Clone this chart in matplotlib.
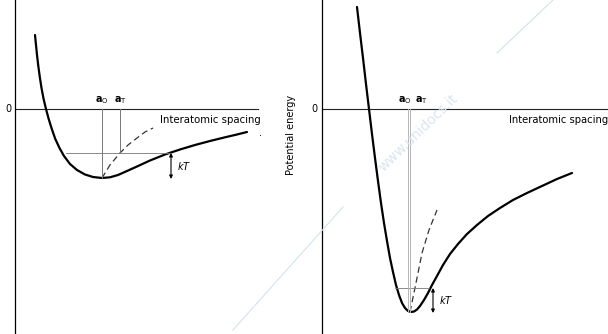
import numpy as np
import matplotlib.pyplot as plt
from matplotlib.lines import Line2D

# values (arbitrary units, 0 = zero energy line)
# left panel: shallow, asymmetric well
left_x = [20, 21, 22, 23.3, 24.8, 26.5, 28.6, 31, 33.7, 36.8, 40.3, 44.5, 49,
          55, 62, 70, 78, 87, 95, 103, 112, 122, 135, 150, 165, 180, 195,
          210, 222, 232]
left_y = [74, 64, 54, 43, 32, 21, 10, 0, -10, -20, -30, -39, -47, -55, -61,
          -65.5, -68, -69, -68.3, -66, -62, -57.5, -51.5, -45.5, -40.5, -36,
          -32, -28.3, -25.5, -23]
left_mid_x = [87, 95, 105, 113, 122, 130, 138]
left_mid_y = [-69, -56, -44, -36, -29, -23, -19]
left_a0, left_aT = 87, 105
left_min, left_kT = -69, -44
left_kT_span = (51, 155)

# right panel: deep, nearly symmetric well
right_x = [35, 38, 41, 44, 47, 50, 53, 56, 59, 62, 65, 68, 71, 74, 77, 80, 83,
           86, 89, 92, 95, 98, 102, 106, 110, 115, 121, 128, 136, 145, 155,
           166, 178, 191, 205, 220, 235, 250]
right_y = [102, 76, 51, 25, 0, -25, -49, -72, -94, -114, -132, -149, -163,
           -176, -186, -194, -199, -202, -203, -202.5, -200.5, -197, -191,
           -184, -176, -167, -156, -145, -135, -125, -116, -107, -99, -91,
           -84, -77, -70, -64]
right_mid_x = [88, 94, 100, 107, 115]
right_mid_y = [-203, -174, -144, -121, -101]
right_a0, right_aT = 86, 88
right_min, right_kT = -203, -179
right_kT_span = (73, 107)

W, H = 608, 334
fig = plt.figure(figsize=(W / 100, H / 100), dpi=100)
plt.rcParams['font.family'] = ['DejaVu Sans']

# watermark (faint)
wm = '#d3e2f0'
fig.add_artist(Line2D([233 / W, 343 / W], [1 - 330 / H, 1 - 207 / H],
                      color=wm, lw=0.8, transform=fig.transFigure))
fig.add_artist(Line2D([497 / W, 553 / W], [1 - 53 / H, 1 - 0 / H],
                      color=wm, lw=0.8, transform=fig.transFigure))
fig.text(418 / W, 1 - 133 / H, 'www.unidocs.it', rotation=44, color='#dbe5ee',
         fontsize=10, ha='center', va='center')


def panel(ax, cx, cy, mx, my, a0, aT, emin, ekT, span, zero_end, lab_dx):
    ax.set_xlim(0, ax.get_position().width * W)
    ax.set_ylim(-225, 109)
    for s in ['top', 'right', 'bottom']:
        ax.spines[s].set_visible(False)
    ax.spines['left'].set_linewidth(0.9)
    ax.set_xticks([])
    ax.set_yticks([])
    ax.patch.set_alpha(0)

    ax.plot([0, zero_end], [0, 0], color='#222222', lw=0.8, clip_on=False)
    ax.text(-4, 0, '0', ha='right', va='center', fontsize=7, clip_on=False)

    ax.plot(cx, cy, color='black', lw=1.6, solid_capstyle='round',
            solid_joinstyle='round')
    ax.plot(mx, my, color='#333333', lw=0.9, ls=(0, (5, 3)))

    ax.plot([span[0], span[1]], [ekT, ekT], color='#777777', lw=0.6)
    if aT - a0 < 5:
        ax.plot([a0, a0], [0, emin], color='#b5b5b5', lw=0.7)
        ax.plot([aT, aT], [0, emin], color='#b5b5b5', lw=0.7)
    else:
        ax.plot([a0, a0], [0, emin], color='#777777', lw=0.7)
        ax.plot([aT, aT], [0, ekT], color='#777777', lw=0.7)

    ax.annotate('', xy=(span[1] + lab_dx, ekT), xytext=(span[1] + lab_dx, emin - 1),
                arrowprops=dict(arrowstyle='<|-|>', mutation_scale=5, lw=0.8,
                                color='black', shrinkA=0, shrinkB=0))
    ax.text(span[1] + lab_dx + 6, (ekT + emin) / 2, r'$kT$', fontsize=7,
            ha='left', va='center')

    ax.text(a0 - (3 if aT - a0 < 5 else 0), 3, r'$\mathbf{a}_\mathrm{O}$',
            fontsize=7, ha='center', va='bottom')
    ax.text(aT + (11 if aT - a0 < 5 else 0), 3, r'$\mathbf{a}_\mathrm{T}$',
            fontsize=7, ha='center', va='bottom')


ax1 = fig.add_axes([15 / W, 0, 285 / W, 1])
panel(ax1, left_x, left_y, left_mid_x, left_mid_y, left_a0, left_aT,
      left_min, left_kT, left_kT_span, 243, 1)
ax1.text(145, -11, 'Interatomic spacing', fontsize=7.3, ha='left', va='center')
ax1.text(244, -24, '.', fontsize=7, ha='left', va='center')

ax2 = fig.add_axes([322 / W, 0, 286 / W, 1])
panel(ax2, right_x, right_y, right_mid_x, right_mid_y, right_a0, right_aT,
      right_min, right_kT, right_kT_span, 290, 4)
ax2.text(187, -11, 'Interatomic spacing', fontsize=7.2, ha='left', va='center',
         clip_on=False)

fig.text(291 / W, 1 - 135 / H, 'Potential energy', rotation=90, fontsize=7,
         ha='center', va='center')

fig.savefig('out.png', dpi=100)
